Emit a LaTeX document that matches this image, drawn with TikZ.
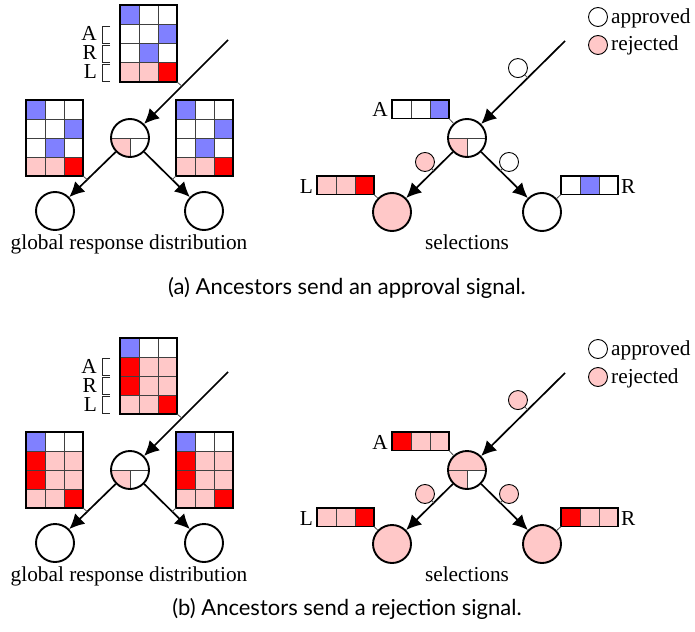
\documentclass[tikz,border=0pt]{standalone}
\usepackage{fontspec}
\setmainfont{Liberation Serif}
\newfontfamily\capfont{Lato}
\usetikzlibrary{arrows.meta,calc}
\definecolor{cblue}{RGB}{128,128,255}
\definecolor{cred}{RGB}{255,0,0}
\definecolor{cpink}{RGB}{255,200,200}
\tikzset{
  gridln/.style={draw=black!75, line width=0.8pt},
  matbox/.style={rectangle, draw, line width=1.9pt, inner sep=0pt, outer sep=0pt},
  bigc/.style={circle, draw, line width=1.9pt, minimum size=38pt, inner sep=0pt, fill=white},
  smallc/.style={circle, draw, line width=0.9pt, minimum size=19pt, inner sep=0pt, fill=white},
  arr/.style={-{Latex[length=15pt,width=14.5pt]}, line width=1.7pt},
  pinln/.style={draw=black!70, line width=0.8pt},
  brk/.style={draw=black!85, line width=0.8pt},
  lbl/.style={inner sep=0pt, font=\fontsize{21.3}{25}\selectfont},
  capt/.style={inner sep=0pt, font=\capfont\fontsize{22}{26}\selectfont},
  quart/.style 2 args={path picture={
    \fill[#1] (path picture bounding box.center) rectangle (path picture bounding box.south west);
    \fill[#2] (path picture bounding box.center) rectangle (path picture bounding box.south east);
    \draw[gridln] (path picture bounding box.west) -- (path picture bounding box.east)
      (path picture bounding box.center) -- (path picture bounding box.south);}},
}
% #1 name, #2 x, #3 y (top-left), #4 rows, #5 cell height, #6 colours
\newcommand\mygrid[6]{%
  \foreach \cl [count=\i from 0] in {#6} {%
    \pgfmathtruncatemacro\rr{\i/3}%
    \pgfmathtruncatemacro\cc{mod(\i,3)}%
    \fill[\cl] ({#2+\cc*19},{#3+\rr*#5}) rectangle ++(19,#5);%
  }%
  \pgfmathsetmacro\hh{#4*#5}%
  \foreach \k in {1,2} {\draw[gridln] ({#2+\k*19},#3) -- ++(0,\hh);}%
  \pgfmathtruncatemacro\nr{#4-1}%
  \ifnum\nr>0 \foreach \k in {1,...,\nr} {\draw[gridln] (#2,{#3+\k*#5}) -- ++(57,0);}\fi
  \node[matbox, minimum width=57pt, minimum height=\hh pt, anchor=north west] (#1) at (#2,#3) {};%
}
% #1 prefix, #2 y of top of second row
\newcommand\arlabels[2]{%
  \foreach \lab [count=\k from 0] in {A,R,L} {%
    \draw[brk] (110,{#2+\k*19+1}) -- (102,{#2+\k*19+1}) -- (102,{#2+\k*19+18}) -- (110,{#2+\k*19+18});
    \node[lbl, anchor=base east] (#1\lab) at (97,{#2+\k*19+16}) {\lab};
  }%
}
\begin{document}
\begin{tikzpicture}[x=1pt,y=-1pt]
\useasboundingbox (0,0) rectangle (695,631);
\fill[white] (0,0) rectangle (695,631);

% ================= panel (a) =================
% global response distribution
\mygrid{gatop}{120}{5}{4}{19.25}{cblue,white,white, white,white,cblue, white,cblue,white, cpink,cpink,cred}
\arlabels{ga}{25}
\mygrid{galeft}{26}{100}{4}{19}{cblue,white,white, white,white,cblue, white,cblue,white, cpink,cpink,cred}
\mygrid{garight}{176}{100}{4}{19}{cblue,white,white, white,white,cblue, white,cblue,white, cpink,cpink,cred}
\node[bigc, quart={cpink}{white}] (gac) at (130,138) {};
\node[bigc] (gal) at (55,211) {};
\node[bigc] (gar) at (204,211) {};
\coordinate (gain) at (228,40);
\draw[arr] (gain) -- (gac);
\draw[arr] (gac) -- (gal);
\draw[arr] (gac) -- (gar);
\draw[pinln] (gatop.south east) -- ($(gain)!0.47!(gac.center)$);
\draw[pinln] (galeft.south east) -- ($(gac.center)!0.57!(gal.center)$);
\draw[pinln] (garight.south west) -- ($(gac.center)!0.57!(gar.center)$);
\node[lbl, anchor=base] (gatxt) at (129,249) {global response distribution};

% selections
\node[smallc, fill=white] (salega) at (598,17) {};
\node[lbl, anchor=base west] (salegat) at (611,23.5) {approved};
\node[smallc, fill=cpink] (salegr) at (598,45) {};
\node[lbl, anchor=base west] (salegrt) at (611,51) {rejected};
\node[bigc, quart={cpink}{white}] (sac) at (467,138) {};
\node[bigc, fill=cpink] (sal) at (392,212) {};
\node[bigc] (sar) at (542,212) {};
\coordinate (sain) at (565,41);
\draw[arr] (sain) -- (sac);
\draw[arr] (sac) -- (sal);
\draw[arr] (sac) -- (sar);
\coordinate (saq1) at ($(sain)!0.38!(sac.center)$);
\coordinate (saq2) at ($(sac.center)!0.443!(sal.center)$);
\coordinate (saq3) at ($(sac.center)!0.443!(sar.center)$);
\node[smallc, fill=white] (sas1) at ($(saq1)+(-9.8,-9.8)$) {};
\node[smallc, fill=cpink] (sas2) at ($(saq2)+(-8.8,-8.8)$) {};
\node[smallc, fill=white] (sas3) at ($(saq3)+(8.8,-8.8)$) {};
\draw[pinln] (sas1) -- (saq1);
\draw[pinln] (sas2) -- (saq2);
\draw[pinln] (sas3) -- (saq3);
\mygrid{saA}{392}{100}{1}{18.5}{white,white,cblue}
\mygrid{saL}{317}{176}{1}{18.5}{cpink,cpink,cred}
\mygrid{saR}{561}{176}{1}{18.5}{white,cblue,white}
\node[lbl, anchor=base east] (saAt) at (388,117) {A};
\node[lbl, anchor=base east] (saLt) at (313,193) {L};
\node[lbl, anchor=base west] (saRt) at (621,193) {R};
\draw[pinln] (saA.south east) -- (sac);
\draw[pinln] (saL.south east) -- (sal);
\draw[pinln] (saR.south west) -- (sar);
\node[lbl, anchor=base] (satxt) at (467,249) {selections};

\node[capt, anchor=base] (capa) at (347,294) {(a) Ancestors send an approval signal.};

% ================= panel (b) =================
\begin{scope}[shift={(0,332)}]
\mygrid{gbtop}{120}{6}{4}{19}{cblue,white,white, cred,cpink,cpink, cred,cpink,cpink, cpink,cpink,cred}
\arlabels{gb}{25}
\mygrid{gbleft}{26}{100}{4}{19}{cblue,white,white, cred,cpink,cpink, cred,cpink,cpink, cpink,cpink,cred}
\mygrid{gbright}{176}{100}{4}{19}{cblue,white,white, cred,cpink,cpink, cred,cpink,cpink, cpink,cpink,cred}
\node[bigc, quart={cpink}{white}] (gbc) at (130,138) {};
\node[bigc] (gbl) at (55,211) {};
\node[bigc] (gbr) at (204,211) {};
\coordinate (gbin) at (228,40);
\draw[arr] (gbin) -- (gbc);
\draw[arr] (gbc) -- (gbl);
\draw[arr] (gbc) -- (gbr);
\draw[pinln] (gbtop.south east) -- ($(gbin)!0.47!(gbc.center)$);
\draw[pinln] (gbleft.south east) -- ($(gbc.center)!0.57!(gbl.center)$);
\draw[pinln] (gbright.south west) -- ($(gbc.center)!0.57!(gbr.center)$);
\node[lbl, anchor=base] (gbtxt) at (129,249) {global response distribution};

\node[smallc, fill=white] (sblega) at (598,17) {};
\node[lbl, anchor=base west] (sblegat) at (611,23.5) {approved};
\node[smallc, fill=cpink] (sblegr) at (598,45) {};
\node[lbl, anchor=base west] (sblegrt) at (611,51) {rejected};
\node[bigc, fill=cpink, quart={cpink}{white}] (sbc) at (467,138) {};
\node[bigc, fill=cpink] (sbl) at (392,212) {};
\node[bigc, fill=cpink] (sbr) at (542,212) {};
\coordinate (sbin) at (565,41);
\draw[arr] (sbin) -- (sbc);
\draw[arr] (sbc) -- (sbl);
\draw[arr] (sbc) -- (sbr);
\coordinate (sbq1) at ($(sbin)!0.38!(sbc.center)$);
\coordinate (sbq2) at ($(sbc.center)!0.443!(sbl.center)$);
\coordinate (sbq3) at ($(sbc.center)!0.443!(sbr.center)$);
\node[smallc, fill=cpink] (sbs1) at ($(sbq1)+(-9.8,-9.8)$) {};
\node[smallc, fill=cpink] (sbs2) at ($(sbq2)+(-8.8,-8.8)$) {};
\node[smallc, fill=cpink] (sbs3) at ($(sbq3)+(8.8,-8.8)$) {};
\draw[pinln] (sbs1) -- (sbq1);
\draw[pinln] (sbs2) -- (sbq2);
\draw[pinln] (sbs3) -- (sbq3);
\mygrid{sbA}{392}{100}{1}{18.5}{cred,cpink,cpink}
\mygrid{sbL}{317}{176}{1}{18.5}{cpink,cpink,cred}
\mygrid{sbR}{561}{176}{1}{18.5}{cred,cpink,cpink}
\node[lbl, anchor=base east] (sbAt) at (388,117) {A};
\node[lbl, anchor=base east] (sbLt) at (313,193) {L};
\node[lbl, anchor=base west] (sbRt) at (621,193) {R};
\draw[pinln] (sbA.south east) -- (sbc);
\draw[pinln] (sbL.south east) -- (sbl);
\draw[pinln] (sbR.south west) -- (sbr);
\node[lbl, anchor=base] (sbtxt) at (467,249) {selections};
\end{scope}

\node[capt, anchor=base] (capb) at (347,615) {(b) Ancestors send a rejection signal.};
\end{tikzpicture}
\end{document}
